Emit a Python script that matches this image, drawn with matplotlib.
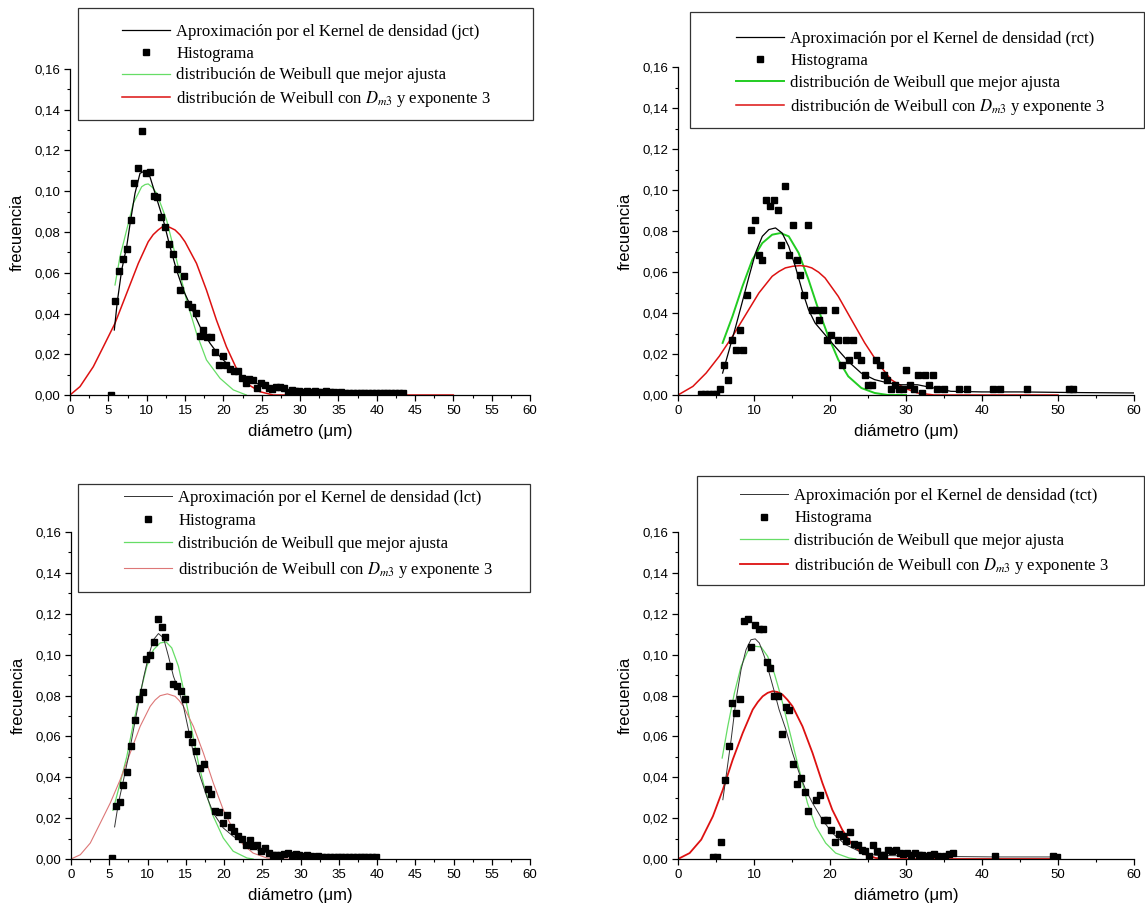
import numpy as np
import matplotlib
matplotlib.use("Agg")
from matplotlib import pyplot as plt
from matplotlib.lines import Line2D
from matplotlib.patches import Rectangle
from matplotlib.ticker import MultipleLocator, FuncFormatter

plt.rcParams['font.family'] = ['Liberation Sans', 'DejaVu Sans']
plt.rcParams['mathtext.fontset'] = 'stix'

# ---------------- jct ----------------
jct_hist_x = [5.4, 5.9, 6.4, 6.9, 7.4, 7.9, 8.4, 8.9, 9.4, 9.9,
              10.4, 10.9, 11.4, 11.9, 12.4, 12.9, 13.4, 13.9, 14.4, 14.9,
              15.4, 15.9, 16.4, 16.9, 17.4, 17.9, 18.4, 18.9, 19.4, 19.9,
              20.4, 20.9, 21.4, 21.9, 22.4, 22.9, 23.4, 23.9, 24.4, 24.9,
              25.4, 25.9, 26.4, 26.9, 27.4, 27.9, 28.4, 28.9, 29.4, 29.9,
              30.4, 30.9, 31.4, 31.9, 32.4, 32.9, 33.4, 33.9, 34.4, 34.9,
              35.4, 35.9, 36.4, 36.9, 37.4, 37.9, 38.4, 38.9, 39.4, 39.9,
              40.4, 40.9, 41.4, 41.9, 42.4, 42.9, 43.4]
jct_hist_y = [0.0, 0.0463, 0.0609, 0.0667, 0.0717, 0.0857, 0.1042, 0.1116, 0.1296, 0.1091,
              0.1096, 0.0977, 0.097, 0.0875, 0.0825, 0.0743, 0.0694, 0.0617, 0.0517, 0.0584,
              0.0445, 0.0432, 0.0402, 0.0291, 0.0319, 0.0285, 0.0286, 0.0211, 0.0147, 0.0193,
              0.0146, 0.0128, 0.0118, 0.0118, 0.0085, 0.0057, 0.0077, 0.0072, 0.0034, 0.0057,
              0.0049, 0.0033, 0.0028, 0.0038, 0.0041, 0.0036, 0.0016, 0.0025, 0.002, 0.0022,
              0.0015, 0.0018, 0.0015, 0.0018, 0.0015, 0.0015, 0.0018, 0.0015, 0.0015, 0.0012,
              0.0015, 0.0012, 0.001, 0.001, 0.001, 0.001, 0.001, 0.0012, 0.001, 0.001,
              0.0012, 0.001, 0.001, 0.001, 0.001, 0.001, 0.0012]
jct_kde_x = [5.78, 6.17, 6.74, 7.39, 7.91, 8.48, 9.13, 9.78, 10.43, 11.3, 12.17, 13.04, 13.9,
             14.78, 15.87, 16.96, 18.26, 19.57, 21.3, 23.0, 24.8, 27.0, 30.0, 34.0, 38.0, 43.5]
jct_kde_y = [0.0319, 0.0458, 0.0613, 0.0728, 0.0859, 0.099, 0.1088, 0.110, 0.1071, 0.0965, 0.0859,
             0.0728, 0.0613, 0.0515, 0.0425, 0.0335, 0.0254, 0.0188, 0.0123, 0.0082, 0.0049,
             0.0028, 0.0018, 0.0015, 0.0012, 0.001]
jct_best_x = [5.87, 6.52, 7.39, 8.26, 9.35, 9.8, 10.2, 10.75, 11.3, 12.6, 13.9, 15.2, 16.5, 17.8,
              19.57, 21.3, 23.0]
jct_best_y = [0.054, 0.0679, 0.081, 0.0941, 0.1022, 0.1033, 0.1036, 0.1019, 0.099, 0.0859, 0.0663,
              0.0466, 0.0303, 0.0172, 0.0082, 0.0025, 0.0]
jct_dm3_x = [0.0, 1.3, 3.04, 4.35, 5.87, 7.39, 8.91, 10.2, 10.85, 11.5, 12.0, 12.4, 13.0, 13.7,
             14.35, 15.0, 16.5, 17.8, 19.1, 20.4, 21.7, 23.0, 24.8, 26.5, 50.0]
jct_dm3_y = [0.0, 0.0041, 0.0139, 0.0237, 0.0352, 0.0499, 0.0646, 0.0752, 0.0787, 0.081, 0.0824,
             0.0829, 0.0823, 0.081, 0.0786, 0.0752, 0.0646, 0.0515, 0.0368, 0.0237, 0.0131, 0.0057,
             0.0016, 0.0, 0.0]

# ---------------- rct ----------------
rct_hist_x = [3.05, 3.55, 4.05, 4.55, 5.05, 5.55, 6.1, 6.6, 7.1, 7.6,
              8.1, 8.6, 9.1, 9.6, 10.1, 10.6, 11.1, 11.6, 12.1, 12.6,
              13.1, 13.6, 14.1, 14.6, 15.1, 15.6, 16.1, 16.6, 17.1, 17.6,
              18.1, 18.6, 19.1, 19.6, 20.1, 20.6, 21.1, 21.6, 22.05, 22.55,
              23.05, 23.55, 24.05, 24.55, 25.05, 25.55, 26.05, 26.55, 27.05, 27.55,
              28.05, 28.55, 29.05, 29.55, 30.05, 30.55, 31.05, 31.55, 32.05, 32.55,
              33.05, 33.55, 34.05, 35.0, 37.0, 38.0, 41.5, 42.4, 45.9, 51.5,
              52.0]
rct_hist_y = [0.0007, 0.0007, 0.0007, 0.0007, 0.0007, 0.0029, 0.0148, 0.0075, 0.027, 0.0221,
              0.0319, 0.0221, 0.0489, 0.0803, 0.0852, 0.0681, 0.0657, 0.095, 0.0924, 0.095,
              0.0902, 0.073, 0.1021, 0.0681, 0.0828, 0.0657, 0.0584, 0.0489, 0.0828, 0.0413,
              0.0413, 0.0367, 0.0413, 0.027, 0.0294, 0.0413, 0.027, 0.0148, 0.027, 0.0172,
              0.027, 0.0197, 0.0172, 0.0099, 0.005, 0.005, 0.0172, 0.0148, 0.0099, 0.0075,
              0.0029, 0.005, 0.0029, 0.0029, 0.0124, 0.005, 0.0029, 0.0099, 0.001, 0.0099,
              0.005, 0.0099, 0.0029, 0.0029, 0.0029, 0.0029, 0.0029, 0.0029, 0.0029, 0.0029,
              0.0029]
rct_kde_x = [5.87, 6.74, 7.6, 8.48, 9.35, 10.2, 11.09, 11.96, 12.83, 13.7, 14.57, 15.43, 16.3,
             17.17, 18.04, 20.65, 22.4, 24.1, 25.87, 27.6, 29.3, 31.5, 33.7, 35.9, 40.0, 45.0,
             52.0, 60.0]
rct_kde_y = [0.0107, 0.0221, 0.0335, 0.0457, 0.0579, 0.0693, 0.0774, 0.0807, 0.0815, 0.079,
             0.0725, 0.0628, 0.0514, 0.0416, 0.0351, 0.0237, 0.0164, 0.0107, 0.0075, 0.0059,
             0.005, 0.005, 0.0034, 0.0018, 0.0015, 0.0015, 0.0012, 0.001]
rct_best_x = [5.87, 7.17, 8.48, 9.78, 11.09, 12.39, 13.48, 14.57, 15.87, 17.17, 18.48, 19.78,
              21.09, 22.4, 24.13, 25.87, 27.6, 30.0]
rct_best_y = [0.0254, 0.0384, 0.053, 0.066, 0.0741, 0.0782, 0.079, 0.0774, 0.0693, 0.0563,
              0.0416, 0.0286, 0.0172, 0.0091, 0.0034, 0.001, 0.0, 0.0]
rct_dm3_x = [0.0, 1.96, 3.7, 5.43, 7.17, 8.91, 10.65, 12.39, 13.3, 14.13, 15.1, 16.09, 16.9, 17.6,
             18.5, 19.35, 21.09, 22.83, 24.57, 26.3, 28.04, 29.78, 31.5, 33.7, 50.0]
rct_dm3_y = [0.0, 0.0042, 0.0107, 0.0189, 0.0286, 0.0392, 0.0498, 0.0579, 0.0603, 0.062, 0.0628,
             0.0631, 0.0628, 0.062, 0.0599, 0.0571, 0.0481, 0.0367, 0.0254, 0.0156, 0.0075, 0.0034,
             0.001, 0.0, 0.0]

# ---------------- lct ----------------
lct_hist_x = [5.35, 5.85, 6.35, 6.85, 7.35, 7.85, 8.35, 8.85, 9.35, 9.85,
              10.35, 10.85, 11.35, 11.85, 12.35, 12.85, 13.35, 13.85, 14.35, 14.85,
              15.35, 15.85, 16.35, 16.85, 17.35, 17.85, 18.35, 18.85, 19.35, 19.85,
              20.35, 20.85, 21.35, 21.85, 22.35, 22.85, 23.35, 23.85, 24.35, 24.85,
              25.35, 25.85, 26.35, 26.85, 27.35, 27.85, 28.35, 28.85, 29.35, 29.85,
              30.35, 30.85, 31.35, 31.85, 32.35, 32.85, 33.35, 33.85, 34.35, 34.85,
              35.35, 35.85, 36.35, 36.85, 37.35, 37.85, 38.35, 38.85, 39.35, 39.85]
lct_hist_y = [0.0005, 0.0258, 0.0281, 0.036, 0.0427, 0.0551, 0.0682, 0.0785, 0.0819, 0.0979,
              0.0998, 0.106, 0.1173, 0.1137, 0.1085, 0.0945, 0.0855, 0.0845, 0.0824, 0.0785,
              0.0613, 0.0573, 0.0529, 0.0447, 0.0463, 0.0343, 0.032, 0.0233, 0.023, 0.0176,
              0.0217, 0.0157, 0.0135, 0.0114, 0.0098, 0.007, 0.0091, 0.0062, 0.0069, 0.0038,
              0.0054, 0.0029, 0.0021, 0.0021, 0.0021, 0.0025, 0.0029, 0.0021, 0.0025, 0.0018,
              0.0015, 0.0018, 0.0015, 0.0012, 0.0015, 0.0012, 0.001, 0.0012, 0.001, 0.0012,
              0.001, 0.001, 0.0012, 0.001, 0.001, 0.001, 0.0008, 0.001, 0.001, 0.001]
lct_kde_x = [5.7, 6.2, 6.87, 7.52, 8.17, 8.83, 9.48, 10.13, 10.78, 11.43, 12.09, 12.74, 13.39,
             14.04, 14.7, 15.35, 16.0, 16.87, 17.74, 18.6, 19.9, 21.2, 23.0, 24.7, 26.9, 30.0,
             35.0, 40.0]
lct_kde_y = [0.0157, 0.0274, 0.0388, 0.0502, 0.0633, 0.0763, 0.0886, 0.0992, 0.1073, 0.1103,
             0.1082, 0.0992, 0.0894, 0.0829, 0.0747, 0.0633, 0.0519, 0.0405, 0.0307, 0.0225,
             0.0152, 0.0111, 0.007, 0.0038, 0.0021, 0.0015, 0.0012, 0.001]
lct_best_x = [5.48, 6.43, 7.3, 8.17, 9.04, 9.91, 10.78, 11.65, 12.43, 13.17, 14.04, 14.91, 15.78,
              16.65, 17.52, 18.6, 19.9, 21.2, 23.0, 23.8]
lct_best_y = [0.0238, 0.0372, 0.0502, 0.0666, 0.0812, 0.0943, 0.1024, 0.1057, 0.1062, 0.1033,
              0.0943, 0.0796, 0.0633, 0.047, 0.0339, 0.0209, 0.0103, 0.0038, 0.0005, 0.0]
lct_dm3_x = [0.0, 1.22, 2.52, 3.83, 5.13, 6.43, 7.74, 9.04, 10.35, 11.0, 11.65, 12.6, 13.6, 14.15,
             14.7, 16.0, 17.3, 18.6, 19.9, 21.2, 22.5, 23.8, 25.6, 26.9, 40.0]
lct_dm3_y = [0.0, 0.0021, 0.0078, 0.0176, 0.0274, 0.0388, 0.0519, 0.0649, 0.0747, 0.0778, 0.0799,
             0.0808, 0.0796, 0.0775, 0.0747, 0.0649, 0.0519, 0.0372, 0.0241, 0.0144, 0.007, 0.0029,
             0.0005, 0.0, 0.0]

# ---------------- tct ----------------
tct_hist_x = [4.6, 5.15, 5.65, 6.15, 6.65, 7.15, 7.65, 8.15, 8.65, 9.15,
              9.65, 10.15, 10.65, 11.15, 11.65, 12.15, 12.65, 13.15, 13.65, 14.15,
              14.65, 15.15, 15.65, 16.15, 16.65, 17.15, 18.15, 18.65, 19.15, 19.65,
              20.15, 20.65, 21.15, 21.65, 22.15, 22.65, 23.15, 23.65, 24.15, 24.65,
              25.15, 25.65, 26.15, 26.65, 27.15, 27.65, 28.15, 28.65, 29.15, 29.65,
              30.15, 30.65, 31.15, 31.65, 32.15, 32.65, 33.15, 33.65, 34.15, 34.65,
              35.15, 35.65, 36.15, 41.65, 49.4, 49.9]
tct_hist_y = [0.0008, 0.0008, 0.0083, 0.0385, 0.0555, 0.0763, 0.0713, 0.0785, 0.1166, 0.1175,
              0.1036, 0.1147, 0.1126, 0.1126, 0.0966, 0.0935, 0.0796, 0.0799, 0.0613, 0.0744,
              0.0728, 0.0465, 0.0365, 0.0395, 0.0326, 0.0233, 0.0287, 0.0315, 0.0192, 0.0192,
              0.0144, 0.0083, 0.0124, 0.0114, 0.0086, 0.0132, 0.0075, 0.007, 0.0046, 0.0038,
              0.0016, 0.007, 0.0038, 0.0021, 0.0021, 0.0042, 0.0038, 0.0042, 0.0029, 0.0025,
              0.0031, 0.0021, 0.0029, 0.0018, 0.0018, 0.0015, 0.0018, 0.0026, 0.0015, 0.0012,
              0.0015, 0.0026, 0.0031, 0.0015, 0.0015, 0.0012]
tct_kde_x = [5.9, 6.33, 6.99, 7.64, 8.3, 8.95, 9.6, 10.17, 10.7, 11.35, 12.0, 12.66, 13.3, 14.2,
             15.07, 15.94, 16.8, 17.7, 19.0, 20.3, 22.05, 23.8, 26.0, 30.0, 36.0, 42.0, 50.0]
tct_kde_y = [0.029, 0.0405, 0.0584, 0.078, 0.0927, 0.1024, 0.1073, 0.1077, 0.1057, 0.0992, 0.091,
             0.0821, 0.0731, 0.0633, 0.0519, 0.0421, 0.0339, 0.0274, 0.0192, 0.0127, 0.007,
             0.0038, 0.0018, 0.0015, 0.0012, 0.001, 0.001]
tct_best_x = [5.81, 6.55, 7.42, 8.3, 9.17, 10.04, 10.92, 11.79, 12.66, 13.54, 14.41, 15.28, 16.16,
              17.03, 18.12, 19.43, 20.74, 22.5, 23.4]
tct_best_y = [0.0494, 0.0649, 0.0812, 0.0943, 0.1016, 0.1041, 0.1038, 0.0992, 0.091, 0.0796,
              0.0666, 0.0535, 0.0405, 0.0274, 0.016, 0.0078, 0.0029, 0.0005, 0.0]
tct_dm3_x = [0.0, 1.53, 3.06, 4.59, 5.9, 7.2, 8.52, 9.83, 10.5, 11.14, 11.8, 12.45, 13.1, 13.76,
             14.4, 15.07, 16.38, 17.7, 19.0, 20.3, 21.6, 22.9, 24.2, 26.0, 27.3, 50.0]
tct_dm3_y = [0.0, 0.0029, 0.0095, 0.0209, 0.0339, 0.0486, 0.0617, 0.0731, 0.0768, 0.0796, 0.0813,
             0.0821, 0.0817, 0.0804, 0.0779, 0.0747, 0.0649, 0.0519, 0.0372, 0.0241, 0.0144, 0.007,
             0.0029, 0.0005, 0.0, 0.0]

W, H = 1145, 910
fig = plt.figure(figsize=(W / 100, H / 100), dpi=100)


def fx(px):
    return px / W


def fy(py):
    return 1 - py / H


# (left px, right px, bottom px, top px) of each plotting area
boxes = {
    'jct': (70, 530, 395, 69),
    'rct': (678, 1134, 395, 67),
    'lct': (71, 530, 859, 532),
    'tct': (678, 1134, 859, 532),
}
# legend frame (x0, y0, x1, y1), top-left of the entries in pixels, row spacing
legend_boxes = {
    'jct': ((78, 8, 533, 120), (122, 24), 0.34),
    'rct': ((690, 12, 1144, 128), (736, 31), 0.36),
    'lct': ((78, 484, 530, 592), (124, 490), 0.43),
    'tct': ((697, 476, 1144, 585), (740, 488), 0.39),
}

panels = [
    ('jct', jct_hist_x, jct_hist_y, jct_kde_x, jct_kde_y, jct_best_x, jct_best_y, jct_dm3_x, jct_dm3_y,
     dict(kde=('black', 0.9), best=('#66dd66', 0.9), dm3=('#dd1111', 1.1)), 5),
    ('rct', rct_hist_x, rct_hist_y, rct_kde_x, rct_kde_y, rct_best_x, rct_best_y, rct_dm3_x, rct_dm3_y,
     dict(kde=('black', 0.9), best=('#22cc22', 1.4), dm3=('#dd1111', 1.1)), 10),
    ('lct', lct_hist_x, lct_hist_y, lct_kde_x, lct_kde_y, lct_best_x, lct_best_y, lct_dm3_x, lct_dm3_y,
     dict(kde=('#333333', 0.7), best=('#66dd66', 0.9), dm3=('#dd7777', 0.8)), 5),
    ('tct', tct_hist_x, tct_hist_y, tct_kde_x, tct_kde_y, tct_best_x, tct_best_y, tct_dm3_x, tct_dm3_y,
     dict(kde=('#333333', 0.7), best=('#66dd66', 0.9), dm3=('#dd1111', 1.3)), 10),
]

serif = {'family': ['Liberation Serif', 'DejaVu Serif'], 'size': 12}

for name, hx, hy, kx, ky, bx, by, dx, dy, sty, xmaj in panels:
    l, r, b, t = boxes[name]
    ax = fig.add_axes([fx(l), fy(b), fx(r - l), (b - t) / H])
    ax.plot(kx, ky, color=sty['kde'][0], lw=sty['kde'][1], zorder=3)
    ax.plot(hx, hy, 's', color='black', ms=5, zorder=4)
    ax.plot(bx, by, color=sty['best'][0], lw=sty['best'][1], zorder=2)
    ax.plot(dx, dy, color=sty['dm3'][0], lw=sty['dm3'][1], zorder=2)

    ax.set_xlim(0, 60)
    ax.set_ylim(0, 0.16)
    ax.spines['top'].set_visible(False)
    ax.spines['right'].set_visible(False)
    ax.xaxis.set_major_locator(MultipleLocator(xmaj))
    ax.xaxis.set_minor_locator(MultipleLocator(xmaj / 2))
    ax.yaxis.set_major_locator(MultipleLocator(0.02))
    ax.yaxis.set_minor_locator(MultipleLocator(0.01))
    ax.yaxis.set_major_formatter(FuncFormatter(lambda v, p: f"{v:.2f}".replace('.', ',')))
    ax.xaxis.set_major_formatter(FuncFormatter(lambda v, p: f"{v:.0f}"))
    ax.tick_params(which='major', length=4, width=0.9, labelsize=9.5, pad=3)
    ax.tick_params(which='minor', length=2.5, width=0.8)
    ax.set_xlabel('diámetro (μm)', fontsize=12, labelpad=5)
    ax.set_ylabel('frecuencia', fontsize=12, labelpad=7)
    for s in ax.spines.values():
        s.set_linewidth(0.9)

    handles = [
        Line2D([], [], color=sty['kde'][0], lw=sty['kde'][1]),
        Line2D([], [], ls='none', marker='s', color='black', ms=5),
        Line2D([], [], color=sty['best'][0], lw=sty['best'][1]),
        Line2D([], [], color=sty['dm3'][0], lw=sty['dm3'][1]),
    ]
    labels = [
        'Aproximación por el Kernel de densidad (%s)' % name,
        'Histograma',
        'distribución de Weibull que mejor ajusta',
        'distribución de Weibull con $D_{m3}$ y exponente 3',
    ]
    (x0, y0, x1, y1), (hxp, hyp), spacing = legend_boxes[name]
    ax.legend(handles, labels, loc='upper left', bbox_to_anchor=(fx(hxp), fy(hyp)),
              bbox_transform=fig.transFigure, frameon=False, borderpad=0, borderaxespad=0,
              handlelength=2.9, handletextpad=0.36, labelspacing=spacing, prop=serif)
    fig.patches.append(Rectangle((fx(x0), fy(y1)), fx(x1 - x0), (y1 - y0) / H,
                                 transform=fig.transFigure, fill=False,
                                 edgecolor='#333333', lw=0.9))

fig.savefig('out.png', dpi=100)
